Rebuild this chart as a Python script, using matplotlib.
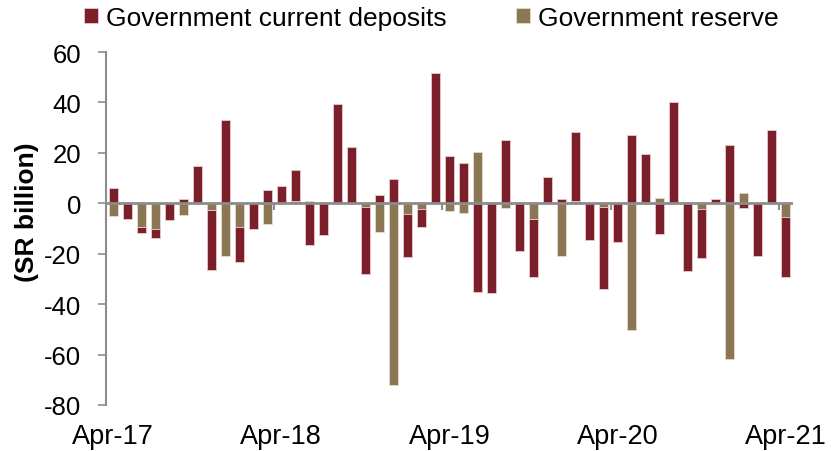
import numpy as np
import matplotlib
matplotlib.use("Agg")
import matplotlib.pyplot as plt

plt.rcParams["font.family"] = ["Liberation Sans", "DejaVu Sans"]

DEP_COLOR = "#7b1f2a"
RES_COLOR = "#8c7754"
GRAY = "#8c8c8c"

# monthly changes, Apr-17 .. Apr-21 (SR billion)
deposits = [6.0, -6.2, -2.3, -3.4, -6.7, 1.6, 14.9, -23.8, 33.0, -13.5,
            -10.2, 5.3, 7.0, 12.1, -16.6, -12.5, 39.2, 22.4, -26.7, 3.4,
            9.5, -17.1, -7.4, 51.5, 18.9, 15.8, -35.0, -35.6, 25.2, -19.0,
            -23.1, 10.6, 1.6, 27.2, -14.5, -32.8, -15.3, 27.1, 18.9, -12.1,
            40.3, -26.8, -19.4, 1.7, 23.1, -1.7, -21.1, 28.9, -24.1]
reserve = [-5.0, 0.0, -9.6, -10.2, 0.0, -4.8, 0.0, -2.6, -21.1, -9.6,
           0.0, -8.4, 0.0, 1.0, 0.9, 0.0, 0.0, 0.0, -1.3, -11.2,
           -71.9, -4.4, -2.1, 0.0, -3.2, -3.7, 20.5, 0.0, -1.7, 0.0,
           -6.2, 0.0, -21.0, 0.9, 0.0, -1.3, 0.0, -50.2, 0.5, 2.2,
           0.0, 0.0, -2.4, 0.0, -61.8, 4.0, 0.0, 0.0, -5.3]
tick_labels = ["Apr-17", "Apr-18", "Apr-19", "Apr-20", "Apr-21"]
y_ticks = [60, 40, 20, 0, -20, -40, -60, -80]

dep = np.array(deposits)
res = np.array(reserve)
x = np.arange(len(dep))

# excel style stacking: reserve is the base series, deposits stack on it
# only when both go the same way
same_sign = np.sign(dep) == np.sign(res)
dep_bottom = np.where(same_sign, res, 0.0)

fig = plt.figure(figsize=(8.31, 4.52), dpi=100)
ax = fig.add_axes([0.1276, 0.1018, 0.954 - 0.1276, 0.8827 - 0.1018])

w = 0.64
ax.bar(x, res, width=w, color=RES_COLOR, edgecolor="#e6dccb", linewidth=0.6,
       label="Government reserve", zorder=2)
ax.bar(x, dep, width=w, bottom=dep_bottom, color=DEP_COLOR, edgecolor="#e8c8cc",
       linewidth=0.6, label="Government current deposits", zorder=2)

ax.set_xlim(-0.5, len(dep) - 0.5)
ax.set_ylim(-80, 60)
ax.set_yticks(y_ticks)
ax.set_yticklabels([str(v) for v in y_ticks])

# zero line and year tick marks
ax.axhline(0, color=GRAY, linewidth=2, zorder=3)
bounds = np.arange(11.5, len(dep), 12)
ax.vlines(bounds, -2.8, 0, color=GRAY, linewidth=1.5, zorder=3)

ax.set_xticks(np.arange(0, len(dep), 12))
ax.set_xticklabels(tick_labels)
ax.tick_params(axis="x", length=0, pad=13, labelsize=19.5)
ax.tick_params(axis="y", length=6, width=1.2, color=GRAY, labelsize=18.5, pad=12)

for s in ["top", "right", "bottom"]:
    ax.spines[s].set_visible(False)
ax.spines["left"].set_color(GRAY)
ax.spines["left"].set_linewidth(1.5)

ax.set_ylabel("(SR billion)", fontsize=19, fontweight="bold")
ax.yaxis.set_label_coords(-0.098, 0.55)

handles, labels = ax.get_legend_handles_labels()
fig.legend(handles[::-1], labels[::-1], loc="center", bbox_to_anchor=(0.519, 0.958),
           ncol=2, frameon=False, fontsize=19, handlelength=0.55, handleheight=0.5,
           handletextpad=0.3, columnspacing=2.6, borderpad=0.2)

fig.savefig("out.png", dpi=100)
